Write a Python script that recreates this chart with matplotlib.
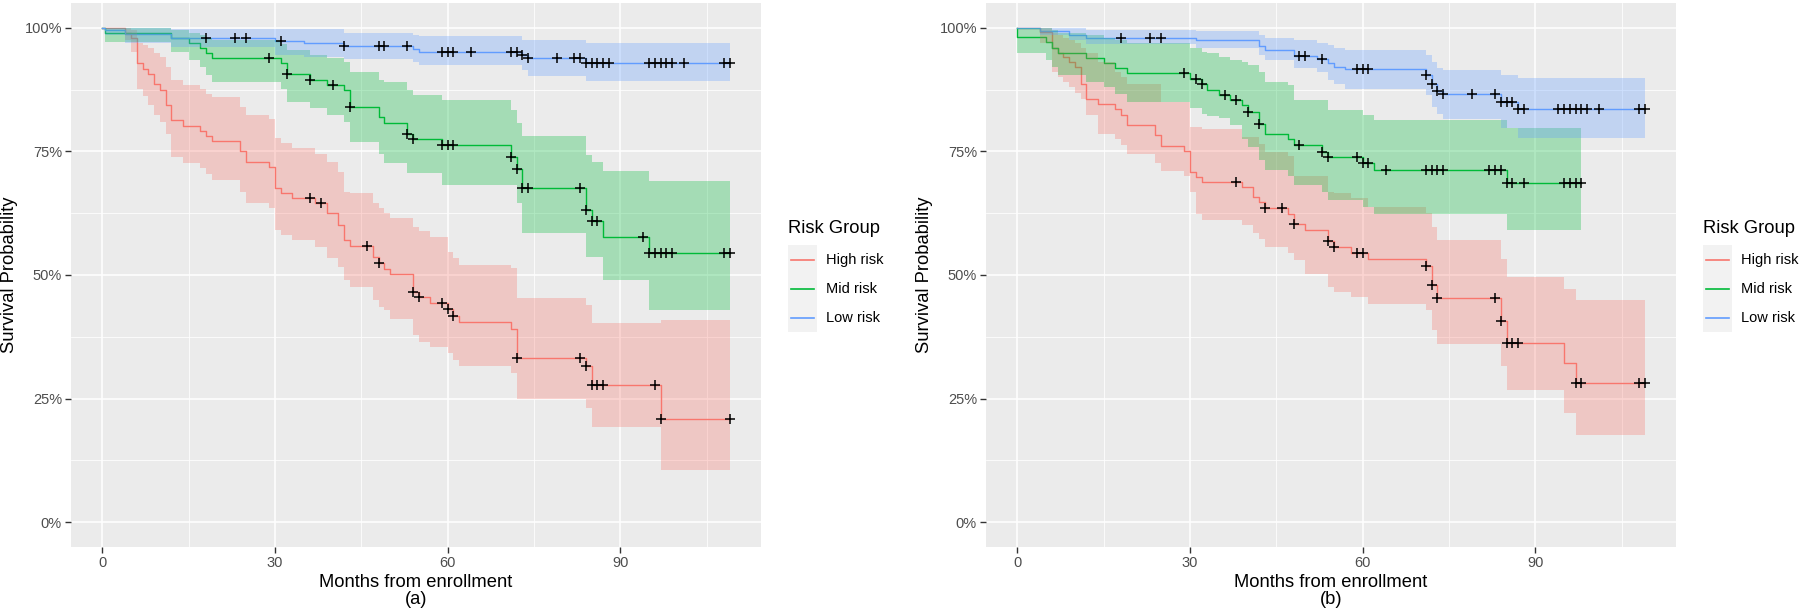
import numpy as np
import matplotlib
matplotlib.use("Agg")
import matplotlib.pyplot as plt
from matplotlib.patches import Rectangle
from matplotlib.lines import Line2D

plt.rcParams['font.family'] = ['Liberation Sans', 'DejaVu Sans']

# ---------------------------------------------------------------- data
groups = ["High risk", "Mid risk", "Low risk"]
colors = ["#F8766D", "#00BA38", "#619CFF"]
panel_tags = ["(a)", "(b)"]
x_ticks = [0, 30, 60, 90]
y_ticks = [0, 0.25, 0.5, 0.75, 1.0]
y_tick_labels = ["0%", "25%", "50%", "75%", "100%"]

# panel (a) - High risk
red_a_t = [0, 4, 5, 6, 7, 8, 9, 10, 11, 12, 14, 17, 18, 19, 24, 25, 29, 30, 31, 33,
           37, 39, 41, 42, 43, 47, 48, 49, 50, 54, 55, 57, 60, 61, 62, 71, 72, 84, 85, 97]
red_a_s = [1.0, 0.990, 0.980, 0.928, 0.916, 0.906, 0.887, 0.875, 0.844, 0.813,
           0.802, 0.792, 0.781, 0.771, 0.751, 0.729, 0.719, 0.676, 0.666, 0.656,
           0.645, 0.625, 0.602, 0.571, 0.559, 0.537, 0.524, 0.513, 0.502, 0.466,
           0.456, 0.444, 0.431, 0.418, 0.404, 0.390, 0.333, 0.317, 0.278, 0.209]
red_a_lo = [1.0, 0.975, 0.950, 0.877, 0.862, 0.844, 0.823, 0.810, 0.786, 0.739,
            0.726, 0.716, 0.705, 0.692, 0.668, 0.645, 0.635, 0.591, 0.581, 0.571,
            0.557, 0.534, 0.517, 0.490, 0.476, 0.449, 0.436, 0.429, 0.412, 0.379,
            0.365, 0.355, 0.342, 0.328, 0.315, 0.301, 0.249, 0.232, 0.193, 0.106]
red_a_hi = [1.0, 1.0, 0.995, 0.970, 0.965, 0.958, 0.949, 0.940, 0.921, 0.894,
            0.885, 0.877, 0.867, 0.860, 0.840, 0.823, 0.815, 0.778, 0.766, 0.757,
            0.745, 0.729, 0.709, 0.668, 0.665, 0.645, 0.635, 0.625, 0.615, 0.598,
            0.588, 0.577, 0.547, 0.534, 0.520, 0.515, 0.454, 0.439, 0.402, 0.410]
red_a_cens = [36, 38, 46, 48, 54, 55, 59, 60, 61, 72, 83, 84, 85, 86, 87, 96, 97, 109]

# panel (a) - Mid risk
green_a_t = [0, 0.5, 12, 15, 17, 18, 19, 31, 32, 36, 39, 42, 43, 48, 49, 53, 54, 59,
             71, 72, 73, 84, 85, 87, 95]
green_a_s = [1.0, 0.990, 0.980, 0.969, 0.958, 0.948, 0.938, 0.928, 0.906, 0.895,
             0.884, 0.874, 0.840, 0.820, 0.808, 0.786, 0.774, 0.763, 0.739, 0.714,
             0.675, 0.631, 0.610, 0.577, 0.544]
green_a_lo = [1.0, 0.972, 0.951, 0.934, 0.920, 0.905, 0.891, 0.877, 0.850, 0.837,
              0.823, 0.810, 0.769, 0.745, 0.726, 0.706, 0.706, 0.682, 0.682, 0.645,
              0.584, 0.537, 0.537, 0.490, 0.429]
green_a_hi = [1.0, 1.0, 0.995, 0.990, 0.985, 0.980, 0.975, 0.968, 0.955, 0.945,
              0.938, 0.930, 0.910, 0.895, 0.891, 0.874, 0.864, 0.854, 0.833, 0.807,
              0.781, 0.742, 0.729, 0.711, 0.690]
green_a_cens = [29, 32, 36, 40, 43, 53, 54, 59, 60, 61, 71, 72, 73, 74, 83, 84, 85, 86,
                94, 95, 96, 97, 98, 99, 108, 109]

# panel (a) - Low risk
blue_a_t = [0, 0.5, 4, 12, 30, 35, 42, 54, 55, 73, 74, 84]
blue_a_s = [1.0, 0.995, 0.987, 0.980, 0.974, 0.970, 0.963, 0.956, 0.951, 0.945, 0.938, 0.929]
blue_a_lo = [1.0, 0.985, 0.970, 0.961, 0.945, 0.940, 0.936, 0.930, 0.924, 0.914, 0.902, 0.892]
blue_a_hi = [1.0, 1.0, 1.0, 0.998, 0.998, 0.998, 0.990, 0.985, 0.983, 0.975, 0.975, 0.970]
blue_a_cens = [18, 23, 25, 31, 42, 48, 49, 53, 59, 60, 61, 64, 71, 72, 73, 74, 79, 82, 83,
               84, 85, 86, 87, 88, 95, 96, 97, 98, 99, 101, 108, 109]

# panel (b) - High risk
red_b_t = [0, 4, 6, 7, 8, 9, 10, 11, 12, 14, 17, 18, 19, 24, 25, 29, 30, 31, 32, 39,
           41, 42, 43, 47, 48, 50, 54, 55, 58, 61, 71, 72, 73, 84, 85, 95, 97]
red_b_s = [1.0, 0.991, 0.958, 0.948, 0.941, 0.931, 0.921, 0.887, 0.855, 0.845,
           0.835, 0.823, 0.803, 0.783, 0.761, 0.751, 0.709, 0.699, 0.688, 0.678,
           0.658, 0.647, 0.635, 0.624, 0.603, 0.592, 0.569, 0.557, 0.545, 0.533,
           0.518, 0.479, 0.454, 0.407, 0.362, 0.323, 0.282]
red_b_lo = [1.0, 0.970, 0.910, 0.900, 0.890, 0.880, 0.868, 0.855, 0.824, 0.786,
            0.776, 0.763, 0.745, 0.727, 0.710, 0.700, 0.668, 0.624, 0.611, 0.601,
            0.585, 0.573, 0.556, 0.545, 0.530, 0.503, 0.476, 0.466, 0.455, 0.441,
            0.429, 0.388, 0.361, 0.315, 0.268, 0.221, 0.177]
red_b_hi = [1.0, 1.0, 0.990, 0.985, 0.980, 0.975, 0.970, 0.960, 0.948, 0.930,
            0.910, 0.900, 0.887, 0.887, 0.850, 0.850, 0.800, 0.800, 0.795, 0.779,
            0.779, 0.765, 0.749, 0.740, 0.700, 0.700, 0.668, 0.665, 0.655, 0.638,
            0.625, 0.597, 0.570, 0.533, 0.496, 0.472, 0.449]
red_b_cens = [38, 43, 46, 48, 54, 55, 59, 60, 71, 72, 73, 83, 84, 85, 86, 87, 97, 98, 108, 109]

# panel (b) - Mid risk (an event at time 0)
green_b_t = [0, 0, 5, 6, 7, 12, 15, 17, 19, 30, 32, 33, 35, 37, 39, 40, 42, 43, 47, 48,
             53, 54, 60, 62, 85]
green_b_s = [1.0, 0.982, 0.972, 0.958, 0.948, 0.939, 0.929, 0.918, 0.908, 0.897,
             0.886, 0.875, 0.863, 0.854, 0.843, 0.830, 0.806, 0.786, 0.776, 0.762,
             0.749, 0.738, 0.726, 0.712, 0.686]
green_b_lo = [1.0, 0.948, 0.935, 0.920, 0.905, 0.890, 0.880, 0.867, 0.850, 0.837,
              0.826, 0.822, 0.818, 0.803, 0.775, 0.759, 0.732, 0.712, 0.700, 0.682,
              0.668, 0.651, 0.638, 0.624, 0.592]
green_b_hi = [1.0, 1.0, 1.0, 0.995, 0.990, 0.985, 0.980, 0.975, 0.970, 0.958,
              0.951, 0.948, 0.941, 0.935, 0.931, 0.925, 0.911, 0.891, 0.885, 0.854,
              0.854, 0.833, 0.823, 0.813, 0.797]
green_b_cens = [29, 31, 32, 36, 38, 40, 42, 49, 53, 54, 59, 60, 61, 64, 71, 72, 73, 74,
                82, 83, 84, 85, 86, 88, 95, 96, 97, 98]

# panel (b) - Low risk
blue_b_t = [0, 4, 9, 12, 31, 42, 43, 48, 52, 54, 55, 57, 71, 72, 73, 74, 84, 87]
blue_b_s = [1.0, 0.993, 0.986, 0.980, 0.975, 0.964, 0.954, 0.943, 0.936, 0.928,
            0.921, 0.916, 0.904, 0.886, 0.873, 0.865, 0.850, 0.835]
blue_b_lo = [1.0, 0.985, 0.975, 0.968, 0.958, 0.945, 0.935, 0.918, 0.910, 0.895,
             0.887, 0.877, 0.864, 0.840, 0.825, 0.816, 0.798, 0.778]
blue_b_hi = [1.0, 1.0, 1.0, 0.995, 0.993, 0.985, 0.980, 0.976, 0.970, 0.965,
             0.958, 0.955, 0.945, 0.931, 0.918, 0.915, 0.904, 0.898]
blue_b_cens = [18, 23, 25, 49, 50, 53, 59, 60, 61, 71, 72, 73, 74, 79, 83, 84, 85, 86,
               87, 88, 94, 95, 96, 97, 98, 99, 101, 108, 109]

panels = [
    [(red_a_t, red_a_s, red_a_lo, red_a_hi, red_a_cens),
     (green_a_t, green_a_s, green_a_lo, green_a_hi, green_a_cens),
     (blue_a_t, blue_a_s, blue_a_lo, blue_a_hi, blue_a_cens)],
    [(red_b_t, red_b_s, red_b_lo, red_b_hi, red_b_cens),
     (green_b_t, green_b_s, green_b_lo, green_b_hi, green_b_cens),
     (blue_b_t, blue_b_s, blue_b_lo, blue_b_hi, blue_b_cens)],
]


def extend(t, vals, cens):
    # carry the last value out to the last follow-up time
    t_end = max(max(cens), t[-1])
    return np.append(t, t_end), np.append(vals, vals[-1])


# ---------------------------------------------------------------- figure
W, H = 1800, 614
fig = plt.figure(figsize=(W / 100, H / 100), dpi=100)
panel_left = [71, 986]
pw, ptop, pbot = 690, 3, 547

for k, curves in enumerate(panels):
    ax = fig.add_axes([panel_left[k] / W, 1 - pbot / H, pw / W, (pbot - ptop) / H])
    ax.set_facecolor("#EBEBEB")
    for sp in ax.spines.values():
        sp.set_visible(False)
    ax.set_xlim(-5.45, 114.45)
    ax.set_ylim(-0.05, 1.05)
    ax.set_xticks(x_ticks)
    ax.set_xticks([15, 45, 75, 105], minor=True)
    ax.set_yticks(y_ticks)
    ax.set_yticklabels(y_tick_labels)
    ax.set_yticks([0.125, 0.375, 0.625, 0.875], minor=True)
    ax.grid(which="major", color="white", lw=1.1)
    ax.grid(which="minor", color="white", lw=0.55)
    ax.set_axisbelow(True)
    ax.tick_params(which="major", length=4, width=1, color="#333333",
                   labelcolor="#4D4D4D", labelsize=10.5, pad=2.5)
    ax.tick_params(which="minor", length=0)

    # lines first, ribbons over them, censor marks on top (survminer order)
    for (t, s, lo, hi, cens), c in zip(curves, colors):
        tt, ss = extend(t, s, cens)
        ax.step(tt, ss, where="post", color=c, lw=1.0, zorder=2)
    for (t, s, lo, hi, cens), c in zip(curves, colors):
        tt, ll = extend(t, lo, cens)
        _, hh = extend(t, hi, cens)
        ax.fill_between(tt, ll, hh, step="post", color=c, alpha=0.3, lw=0, zorder=3)
    for (t, s, lo, hi, cens), c in zip(curves, colors):
        idx = np.searchsorted(t, cens, side="right") - 1
        ax.plot(cens, np.array(s)[idx], "+", color="black", ms=6.5, mew=1.1,
                zorder=4, clip_on=False)

    cx = (panel_left[k] + pw / 2) / W
    fig.text(cx, 1 - 591 / H, "Months from enrollment\n" + panel_tags[k],
             ha="center", va="center", fontsize=13.2, linespacing=1.05)
    fig.text((panel_left[k] - 61) / W, 1 - 275 / H, "Survival Probability",
             rotation=90, ha="center", va="center", fontsize=13.2)

    # legend
    lx = (panel_left[k] + pw + 27) / W
    fig.text(lx, 1 - 229 / H, "Risk Group", ha="left", va="center", fontsize=13.2)
    key_w, key_h, key_top = 29, 28.8, 245.5
    for i, (g, c) in enumerate(zip(groups, colors)):
        y0 = key_top + i * key_h
        fig.patches.append(Rectangle((lx, 1 - (y0 + key_h) / H), key_w / W, key_h / H,
                                     transform=fig.transFigure, facecolor="#F2F2F2",
                                     edgecolor="none"))
        yc = 1 - (y0 + key_h / 2) / H
        fig.lines.append(Line2D([lx + 3 / W, lx + (key_w - 3) / W], [yc, yc],
                                transform=fig.transFigure, color=c, lw=1.2))
        fig.text(lx + (key_w + 9) / W, yc, g, ha="left", va="center", fontsize=10.5)

fig.savefig("out.png", dpi=100, facecolor="white")
